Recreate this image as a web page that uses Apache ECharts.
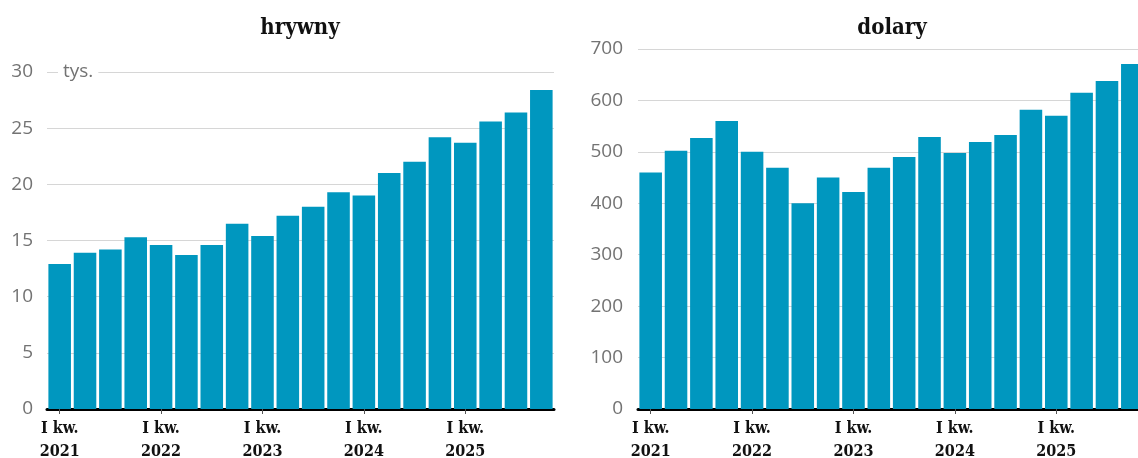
<!DOCTYPE html>
<html>
<head>
<meta charset="utf-8">
<script src="https://cdn.jsdelivr.net/npm/echarts@6/dist/echarts.min.js"></script>
<style>
html,body{margin:0;padding:0;background:#fff;}
#c{width:1138px;height:458px;}
</style>
</head>
<body>
<div id="c"></div>
<script>
const quarters = ['I','II','III','IV'];
const years = [2021, 2022, 2023, 2024, 2025];
const categories = [];
years.forEach(y => quarters.forEach(q => categories.push(q + ' kw.\n' + y)));

const hryvnias = [12.9, 13.9, 14.2, 15.3, 14.6, 13.7, 14.6, 16.5, 15.4, 17.2,
                  18.0, 19.3, 19.0, 21.0, 22.0, 24.2, 23.7, 25.6, 26.4, 28.4];
const dollars = [460, 502, 527, 560, 500, 469, 400, 450, 422, 469,
                 490, 529, 498, 519, 533, 582, 570, 615, 638, 671];

const titles = ['hrywny', 'dolary'];
const unitLabel = 'tys.';

const barColor = '#0097bf';
const serifBold = "'DejaVu Serif Condensed', 'DejaVu Serif', serif";
const sans = "'Open Sans', Lato, sans-serif";

function xAxisFor(gridIndex) {
  return {
    type: 'category', gridIndex, data: categories,
    axisLine: { show: true, lineStyle: { color: '#000', width: 3 } },
    axisTick: { show: true, alignWithLabel: true, length: 5,
      interval: (i) => i % 4 === 0, lineStyle: { color: '#555', width: 1 } },
    axisLabel: { interval: (i) => i % 4 === 0, color: '#111', fontFamily: serifBold,
      fontWeight: 'bold', fontSize: 16, lineHeight: 23, margin: 8 },
    splitLine: { show: false }
  };
}
function yAxisFor(gridIndex, max, interval, margin) {
  return {
    type: 'value', gridIndex, min: 0, max, interval,
    axisLine: { show: false }, axisTick: { show: false },
    axisLabel: { color: '#737373', fontFamily: sans, fontSize: 19, margin },
    splitLine: { lineStyle: { color: '#d6d6d6', width: 1 } }
  };
}

const chart = echarts.init(document.getElementById('c'), null, { renderer: 'canvas' });
chart.setOption({
  animation: false,
  backgroundColor: '#fff',
  grid: [
    { left: 47, top: 72, width: 507, bottom: 49, outerBoundsMode: 'none', containLabel: false },
    { left: 638, top: 49, width: 507, bottom: 49, outerBoundsMode: 'none', containLabel: false }
  ],
  xAxis: [xAxisFor(0), xAxisFor(1)],
  yAxis: [yAxisFor(0, 30, 5, 14), yAxisFor(1, 700, 100, 15)],
  series: [
    { type: 'bar', xAxisIndex: 0, yAxisIndex: 0, data: hryvnias, barCategoryGap: '11%',
      itemStyle: { color: barColor } },
    { type: 'bar', xAxisIndex: 1, yAxisIndex: 1, data: dollars, barCategoryGap: '11%',
      itemStyle: { color: barColor } }
  ],
  graphic: [
    { type: 'text', x: 300, y: 28, z: 100,
      style: { text: titles[0], fill: '#111', align: 'center', verticalAlign: 'middle',
        font: "bold 22px 'DejaVu Serif Condensed', 'DejaVu Serif', serif" } },
    { type: 'text', x: 892, y: 28, z: 100,
      style: { text: titles[1], fill: '#111', align: 'center', verticalAlign: 'middle',
        font: "bold 22px 'DejaVu Serif Condensed', 'DejaVu Serif', serif" } },
    { type: 'text', x: 58, y: 72, z: 100,
      style: { text: unitLabel, fill: '#737373', verticalAlign: 'middle',
        font: "19px 'Open Sans', Lato, sans-serif",
        backgroundColor: '#fff', padding: [0, 5, 0, 5] } }
  ]
});
</script>
</body>
</html>
